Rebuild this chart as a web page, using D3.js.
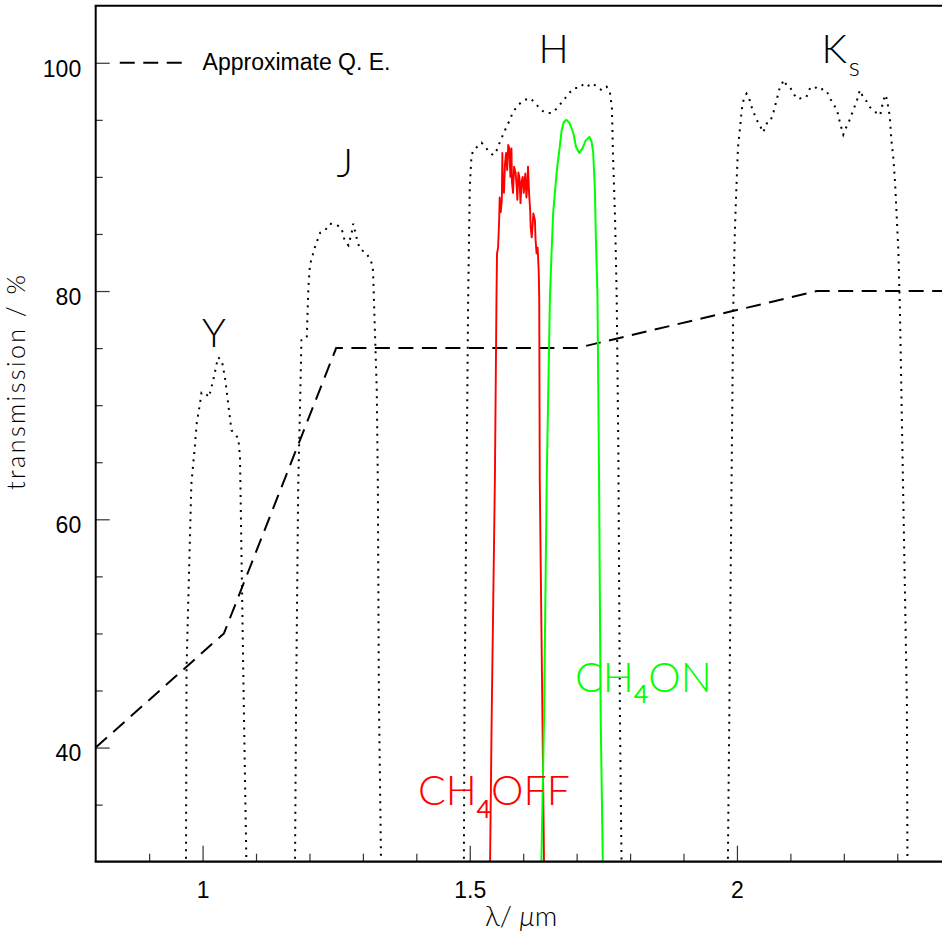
<!DOCTYPE html>
<html><head><meta charset="utf-8">
<script src="https://cdn.jsdelivr.net/npm/d3@7/dist/d3.min.js"></script>
<style>body{margin:0;background:#fff}</style>
</head><body>
<svg id="chart" width="942" height="935"></svg>
<script>
// ---------- data (wavelength µm, transmission %) ----------
const bandY = [[0.966,25],[0.969,29.9],[0.970,47.0],[0.979,63.1],[0.986,66.6],[0.989,68.4],[0.995,70.1],[0.998,71.1],[1.004,71.1],[1.012,70.7],[1.020,72.2],[1.029,74.2],[1.036,73.9],[1.042,72.4],[1.048,70.1],[1.054,67.8],[1.067,67.1],[1.070,65.4],[1.071,62.5],[1.077,44.1],[1.082,29.9],[1.083,25]];
const bandJ = [[1.172,25],[1.173,29.9],[1.175,44.1],[1.179,63.0],[1.183,71.3],[1.185,75.7],[1.195,75.9],[1.198,80.3],[1.201,82.3],[1.210,83.8],[1.220,85.1],[1.229,85.3],[1.238,85.9],[1.251,85.8],[1.260,85.5],[1.266,84.4],[1.273,84.0],[1.279,85.1],[1.282,85.9],[1.288,84.7],[1.294,83.7],[1.307,83.3],[1.316,82.5],[1.319,81.8],[1.322,77.2],[1.326,71.3],[1.328,63.1],[1.330,44.1],[1.334,29.9],[1.335,25]];
const bandH = [[1.488,25],[1.489,29.9],[1.490,42.6],[1.494,63.4],[1.497,79.4],[1.500,89.1],[1.503,91.7],[1.506,92.3],[1.513,92.6],[1.522,93.0],[1.528,92.7],[1.536,92.2],[1.544,91.9],[1.550,92.3],[1.556,93.0],[1.563,93.8],[1.569,94.4],[1.575,95.0],[1.581,95.7],[1.591,96.3],[1.600,96.7],[1.613,96.9],[1.622,96.5],[1.631,96.0],[1.641,95.6],[1.653,95.6],[1.663,96.0],[1.675,96.7],[1.687,97.4],[1.697,97.8],[1.706,97.8],[1.714,98.2],[1.722,98.0],[1.731,98.2],[1.737,97.9],[1.747,97.6],[1.756,97.9],[1.762,97.5],[1.766,96.1],[1.768,92.0],[1.772,86.2],[1.775,79.4],[1.778,66.3],[1.781,42.9],[1.784,29.9],[1.785,25]];
const bandKs = [[1.982,25],[1.983,29.9],[1.986,44.1],[1.993,78.3],[1.996,85.1],[1.999,89.1],[2.002,92.6],[2.006,94.4],[2.009,95.9],[2.013,96.9],[2.018,97.3],[2.024,96.7],[2.029,95.9],[2.037,95.0],[2.043,94.5],[2.049,93.9],[2.056,94.7],[2.062,94.8],[2.068,95.6],[2.074,96.7],[2.080,97.8],[2.088,98.5],[2.093,98.0],[2.100,97.8],[2.107,97.2],[2.115,96.8],[2.124,97.0],[2.130,97.0],[2.137,97.8],[2.146,97.9],[2.152,97.6],[2.162,97.7],[2.168,97.5],[2.174,96.9],[2.180,96.4],[2.187,95.9],[2.193,94.7],[2.199,93.7],[2.205,94.4],[2.212,95.1],[2.218,95.9],[2.224,96.6],[2.230,97.6],[2.236,97.0],[2.243,96.6],[2.249,96.1],[2.255,95.9],[2.261,95.6],[2.268,95.4],[2.274,96.7],[2.278,97.2],[2.281,96.7],[2.286,95.3],[2.289,93.2],[2.293,91.5],[2.296,89.4],[2.299,86.5],[2.302,83.6],[2.305,78.3],[2.318,44.1],[2.319,30.4],[2.320,25]];
const ch4Off = [[1.537,25],[1.538,29.9],[1.541,42.6],[1.547,63.4],[1.550,79.4],[1.551,83.3],[1.553,83.8],[1.555,86.2],[1.556,88.2],[1.558,86.9],[1.560,88.0],[1.561,92.1],[1.562,89.0],[1.564,88.6],[1.566,91.2],[1.568,92.1],[1.570,90.6],[1.572,92.8],[1.574,92.5],[1.576,90.0],[1.578,92.5],[1.579,89.5],[1.581,88.6],[1.583,90.9],[1.586,90.3],[1.588,89.0],[1.589,88.0],[1.591,90.4],[1.593,89.9],[1.595,87.7],[1.597,89.6],[1.599,90.0],[1.601,88.6],[1.603,89.8],[1.604,90.3],[1.606,88.2],[1.608,89.5],[1.609,90.9],[1.611,88.6],[1.613,87.1],[1.614,85.6],[1.616,84.7],[1.618,86.0],[1.619,86.8],[1.622,86.2],[1.623,84.6],[1.625,83.3],[1.627,83.8],[1.629,81.8],[1.630,79.4],[1.631,63.4],[1.636,42.6],[1.639,29.9],[1.640,25]];
const ch4On = [[1.633,25],[1.634,29.9],[1.639,42.6],[1.644,63.4],[1.650,79.4],[1.653,83.3],[1.656,86.8],[1.663,90.6],[1.667,92.1],[1.672,94.1],[1.676,94.8],[1.681,95.0],[1.687,94.7],[1.694,93.8],[1.699,92.6],[1.705,92.1],[1.711,92.5],[1.717,93.2],[1.724,93.5],[1.728,93.1],[1.731,92.1],[1.734,89.1],[1.736,84.7],[1.739,79.5],[1.742,63.4],[1.745,42.6],[1.749,29.9],[1.750,25]];
const qe = [[0.8,40],[1.04,50],[1.25,75],[1.7,75],[2.15,80],[2.4,80]];

const xMajorTicks = [1, 1.5, 2];
const xMinorTicks = [0.9,1.1,1.2,1.3,1.4,1.6,1.7,1.8,1.9,2.1,2.2,2.3];
const yMajorTicks = [40, 60, 80, 100];
const yMinorTicks = [35,45,50,55,65,70,75,85,90,95];
const legendText = "Approximate Q. E.";
const xTitle = "λ/ ";
const xTitleUnit = "μ";
const xTitleRest = "m";
const yTitle = "transmission / %";

// ---------- layout ----------
const L = 95.7, R = 950.7, T = 5.7, B = 861.7;
const svg = d3.select("#chart");
const x = d3.scaleLinear().domain([0.8, 2.4]).range([L, R]);
const y = d3.scaleLinear().domain([30, 105]).range([B, T]);

svg.append("defs").append("clipPath").attr("id","clip")
  .append("rect").attr("x",L).attr("y",T).attr("width",R-L).attr("height",B-T);

const line = d3.line().x(d=>x(d[0])).y(d=>y(d[1]));
const plot = svg.append("g").attr("clip-path","url(#clip)");

// Q.E. dashed
plot.append("path").datum(qe).attr("d",line)
  .attr("fill","none").attr("stroke","#000").attr("stroke-width",2)
  .attr("stroke-dasharray","15,8.5");

// filter bands (dotted)
[bandY, bandJ, bandH, bandKs].forEach(b=>{
  plot.append("path").datum(b).attr("d",line)
    .attr("fill","none").attr("stroke","#000").attr("stroke-width",2)
    .attr("stroke-dasharray","2,5.5");
});
plot.append("path").datum(ch4Off).attr("d",line)
  .attr("fill","none").attr("stroke","#ff0000").attr("stroke-width",1.9)
  .attr("stroke-linejoin","round");
plot.append("path").datum(ch4On).attr("d",line)
  .attr("fill","none").attr("stroke","#00ff00").attr("stroke-width",2)
  .attr("stroke-linejoin","round");

// ---------- axes ----------
const tickFont = "'Liberation Sans', Arial, Helvetica, sans-serif";
const gx = svg.append("g").attr("transform",`translate(0,${B})`)
  .call(d3.axisBottom(x).tickValues(xMajorTicks).tickSize(-16).tickPadding(20).tickFormat(d3.format("")));
gx.select(".domain").remove();
gx.selectAll("line").attr("stroke","#333").attr("stroke-width",1.2);
gx.selectAll("text").attr("font-family",tickFont).attr("font-size",23).attr("fill","#000");
const gxm = svg.append("g").attr("transform",`translate(0,${B})`)
  .call(d3.axisBottom(x).tickValues(xMinorTicks).tickSize(-8).tickFormat(""));
gxm.select(".domain").remove();
gxm.selectAll("line").attr("stroke","#333").attr("stroke-width",1.2);

const gy = svg.append("g").attr("transform",`translate(${L},0)`)
  .call(d3.axisLeft(y).tickValues(yMajorTicks).tickSize(-14).tickPadding(14.5));
gy.select(".domain").remove();
gy.selectAll("line").attr("stroke","#333").attr("stroke-width",1.2);
gy.selectAll("text").attr("font-family",tickFont).attr("font-size",23).attr("fill","#000").attr("dy","0.58em");
const gym = svg.append("g").attr("transform",`translate(${L},0)`)
  .call(d3.axisLeft(y).tickValues(yMinorTicks).tickSize(-7).tickFormat(""));
gym.select(".domain").remove();
gym.selectAll("line").attr("stroke","#333").attr("stroke-width",1.2);

// frame
svg.append("line").attr("x1",L).attr("x2",L).attr("y1",T).attr("y2",B).attr("stroke","#000").attr("stroke-width",2);
svg.append("line").attr("x1",L-1).attr("x2",R).attr("y1",B).attr("y2",B).attr("stroke","#000").attr("stroke-width",2.2);
svg.append("line").attr("x1",L-1).attr("x2",R).attr("y1",T).attr("y2",T).attr("stroke","#000").attr("stroke-width",2);
svg.append("line").attr("x1",R).attr("x2",R).attr("y1",T).attr("y2",B).attr("stroke","#000").attr("stroke-width",2);

// ---------- labels ----------
const thin = "Lato, 'Open Sans', 'Liberation Sans', sans-serif";
function lab(txt, xv, yv, size, color, anchor){
  return svg.append("text").attr("x",x(xv)).attr("y",y(yv)).attr("font-family",thin)
    .attr("font-weight",300).attr("font-size",size).attr("fill",color||"#000")
    .attr("text-anchor",anchor||"start").text(txt);
}
lab("Y", 1.021, 75.1, 40, "#000", "middle");
lab("J", 1.266, 90.0, 40, "#000", "middle");
lab("H", 1.657, 100.0, 40, "#000", "middle");
const ks = lab("K", 2.158, 100.0, 40, "#000", "start");
ks.append("tspan").attr("font-size",26).attr("dx",2).attr("dy",13).text("s");

const off = lab("CH", 1.403, 35.0, 41, "#ff0000", "start");
off.append("tspan").attr("font-size",25).attr("font-weight",400).attr("dy",13).text("4");
off.append("tspan").attr("dy",-13).text("OFF");
const on = lab("CH", 1.697, 44.9, 41, "#00ff00", "start");
on.append("tspan").attr("font-size",25).attr("font-weight",400).attr("dy",11).text("4");
on.append("tspan").attr("dy",-11).text("ON");

// legend
svg.append("line").attr("x1",x(0.845)).attr("x2",x(0.962)).attr("y1",y(100)).attr("y2",y(100))
  .attr("stroke","#000").attr("stroke-width",2).attr("stroke-dasharray","15,8.5");
svg.append("text").attr("x",x(1.0)).attr("y",y(100)+7.5).attr("font-family",tickFont)
  .attr("font-size",23).attr("fill","#000").text(legendText);

// axis titles
const xt = svg.append("text").attr("x",485).attr("y",926).attr("font-family",thin).attr("font-weight",300)
  .attr("font-size",28).attr("fill","#000").text(xTitle);
xt.append("tspan").attr("font-style","italic").text(xTitleUnit);
xt.append("tspan").text(xTitleRest);
svg.append("text").attr("transform","translate(25,490) rotate(-90)")
  .attr("font-family",thin).attr("font-weight",300).attr("font-size",25).attr("fill","#000")
  .attr("textLength",215).attr("lengthAdjust","spacing").text(yTitle);
</script>
</body></html>
